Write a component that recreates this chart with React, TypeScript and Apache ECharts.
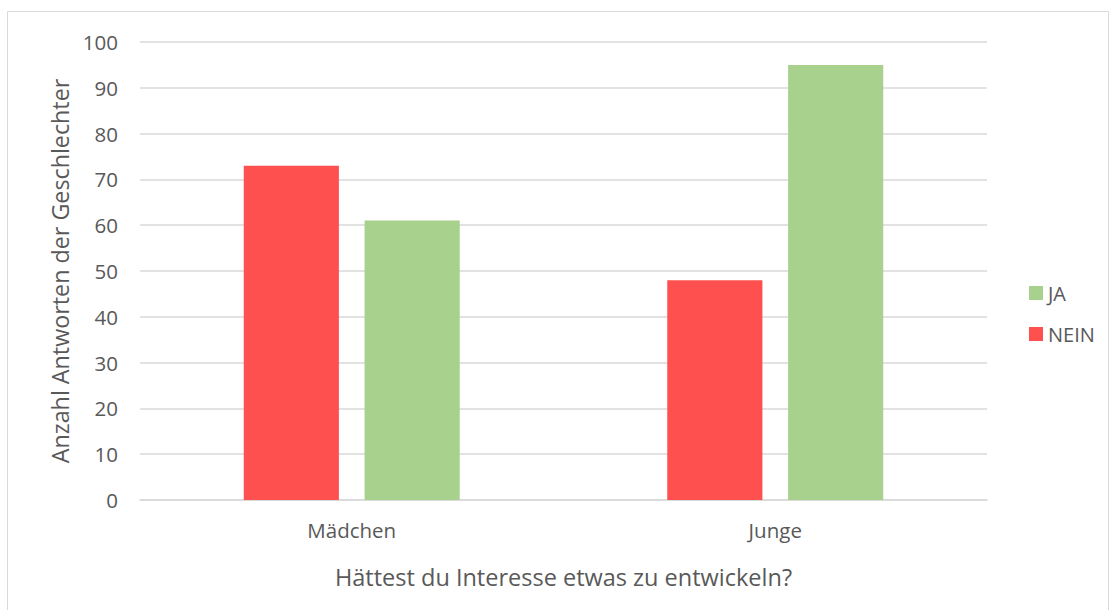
import React, { useEffect, useRef } from "react";
import * as echarts from "echarts";

const categories = ["Mädchen", "Junge"];
const neinValues = [73, 48];
const jaValues = [61, 95];
const yTicks = { min: 0, max: 100, interval: 10 };
const xTitle = "Hättest du Interesse etwas zu entwickeln?";
const yTitle = "Anzahl Antworten der Geschlechter";

export default function App() {
  const ref = useRef<HTMLDivElement>(null);
  useEffect(() => {
    const chart = echarts.init(ref.current!, null, { renderer: "svg" });
    const font = "'Open Sans', Calibri, sans-serif";
    chart.setOption({
      animation: false,
      backgroundColor: "#ffffff",
      textStyle: { fontFamily: font, color: "#595959" },
      graphic: [
        {
          type: "rect",
          shape: { x: 7.5, y: 11.5, width: 1101, height: 610 },
          style: { fill: "none", stroke: "#d9d9d9", lineWidth: 1 },
          silent: true,
        },
      ],
      grid: { left: 140, right: 131, top: 42, bottom: 110 },
      legend: {
        orient: "vertical",
        left: 1024,
        top: 278,
        itemWidth: 14,
        itemHeight: 14,
        itemGap: 21,
        icon: "rect",
        textStyle: { fontFamily: font, fontSize: 20, color: "#595959" },
        data: ["JA", "NEIN"],
      },
      xAxis: {
        type: "category",
        data: categories,
        axisLine: { lineStyle: { color: "#d9d9d9", width: 1.5 } },
        axisTick: { show: false },
        axisLabel: { fontFamily: font, fontSize: 20.5, color: "#595959", margin: 19 },
        name: xTitle,
        nameLocation: "middle",
        nameGap: 65,
        nameTextStyle: { fontFamily: font, fontSize: 23.5, color: "#595959" },
      },
      yAxis: {
        type: "value",
        min: yTicks.min,
        max: yTicks.max,
        interval: yTicks.interval,
        axisLine: { show: false },
        axisTick: { show: false },
        splitLine: { lineStyle: { color: "#d9d9d9", width: 1.5 } },
        axisLabel: { fontFamily: font, fontSize: 20.5, color: "#595959", margin: 22 },
        name: yTitle,
        nameLocation: "middle",
        nameGap: 66,
        nameTextStyle: { fontFamily: font, fontSize: 23.3, color: "#595959" },
      },
      series: [
        {
          name: "NEIN",
          type: "bar",
          data: neinValues,
          itemStyle: { color: "#ff5050" },
          barCategoryGap: "49%",
          barGap: "27%",
        },
        {
          name: "JA",
          type: "bar",
          data: jaValues,
          itemStyle: { color: "#a9d18e" },
          barCategoryGap: "49%",
          barGap: "27%",
        },
      ],
    });
    return () => chart.dispose();
  }, []);
  return (
    <div
      ref={ref}
      style={{ position: "fixed", left: 0, top: 0, width: 1118, height: 610 }}
    />
  );
}
